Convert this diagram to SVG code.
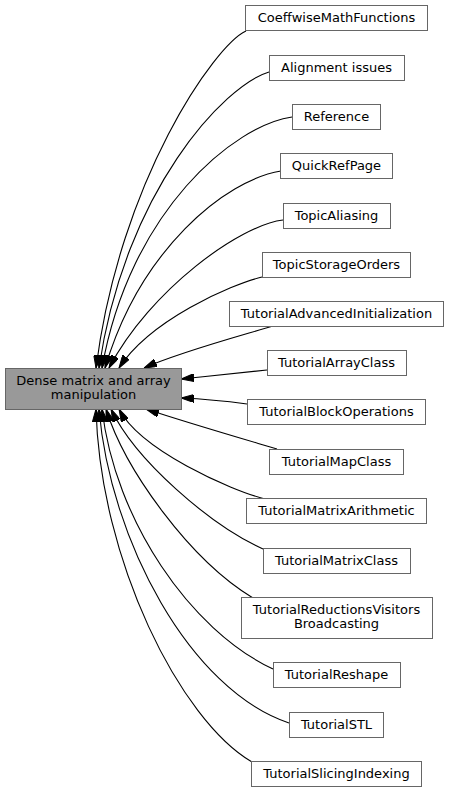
<svg xmlns="http://www.w3.org/2000/svg" width="449" height="792" viewBox="0 0 449 792">
<style>
.n rect{fill:#ffffff;stroke:#666666;stroke-width:1}
#main rect{fill:#999999;stroke:#666666;stroke-width:1}
text{font-family:"DejaVu Sans",sans-serif;font-size:13px;fill:#000000;text-anchor:middle}
.e path{fill:none;stroke:#000000;stroke-width:1.1;marker-end:url(#ah)}
</style>
<defs>
<marker id="ah" markerUnits="userSpaceOnUse" viewBox="0 0 13 8" refX="13" refY="4" markerWidth="13" markerHeight="8" orient="auto">
<path d="M0,0 L13,4 L0,8 Z" fill="#000000" stroke="#000000" stroke-width="1"/>
</marker>
</defs>
<rect width="449" height="792" fill="#ffffff"/>
<g id="edges" class="e">
<path d="M246,31 C215,45 120,180 96,368"/>
<path d="M269,72 C225,85 125,190 99,368"/>
<path d="M292,117 C235,125 130,210 102,368"/>
<path d="M281,171 C225,180 140,250 105,368"/>
<path d="M283,220 C240,225 150,290 109,368"/>
<path d="M262,277 C230,285 150,320 119,368"/>
<path d="M273,326 C240,336 180,352 144,368"/>
<path d="M267,370 C240,373 210,376 181,379"/>
<path d="M247,404 C225,401 205,399 181,398"/>
<path d="M277,449 C240,438 185,422 146,409"/>
<path d="M265,499 C230,490 140,450 119,409"/>
<path d="M263,549 C210,525 135,460 111,409"/>
<path d="M253,598 C190,560 125,470 106,409"/>
<path d="M273,669 C190,630 115,520 102,409"/>
<path d="M289,723 C190,690 110,540 99,409"/>
<path d="M252,762 C180,720 100,560 96,409"/>
</g>
<g id="main"><rect x="5.5" y="368.5" width="176" height="41"/><text x="93.5" y="385">Dense matrix and array</text><text x="93.5" y="398.5">manipulation</text></g>
<g id="n1" class="n"><rect x="245.5" y="5.5" width="182" height="25"/><text x="336.5" y="22">CoeffwiseMathFunctions</text></g>
<g id="n2" class="n"><rect x="269.5" y="55.5" width="135" height="25"/><text x="336.5" y="72">Alignment issues</text></g>
<g id="n3" class="n"><rect x="292.5" y="104.5" width="88" height="25"/><text x="336.5" y="121">Reference</text></g>
<g id="n4" class="n"><rect x="280.5" y="153.5" width="112" height="25"/><text x="336.5" y="170">QuickRefPage</text></g>
<g id="n5" class="n"><rect x="283.5" y="203.5" width="107" height="25"/><text x="336.5" y="220">TopicAliasing</text></g>
<g id="n6" class="n"><rect x="262.5" y="252.5" width="148" height="25"/><text x="336.5" y="269">TopicStorageOrders</text></g>
<g id="n7" class="n"><rect x="229.5" y="301.5" width="214" height="25"/><text x="336.5" y="318">TutorialAdvancedInitialization</text></g>
<g id="n8" class="n"><rect x="267.5" y="350.5" width="139" height="25"/><text x="336.5" y="367">TutorialArrayClass</text></g>
<g id="n9" class="n"><rect x="247.5" y="399.5" width="178" height="25"/><text x="336.5" y="416">TutorialBlockOperations</text></g>
<g id="n10" class="n"><rect x="269.5" y="449.5" width="134" height="25"/><text x="336.5" y="466">TutorialMapClass</text></g>
<g id="n11" class="n"><rect x="246.5" y="498.5" width="180" height="25"/><text x="336.5" y="515">TutorialMatrixArithmetic</text></g>
<g id="n12" class="n"><rect x="263.5" y="548.5" width="147" height="25"/><text x="336.5" y="565">TutorialMatrixClass</text></g>
<g id="n13" class="n"><rect x="241.5" y="597.5" width="191" height="41"/><text x="336.5" y="614">TutorialReductionsVisitors</text><text x="336.5" y="627.5">Broadcasting</text></g>
<g id="n14" class="n"><rect x="273.5" y="662.5" width="127" height="25"/><text x="336.5" y="679">TutorialReshape</text></g>
<g id="n15" class="n"><rect x="289.5" y="712.5" width="94" height="25"/><text x="336.5" y="729">TutorialSTL</text></g>
<g id="n16" class="n"><rect x="251.5" y="761.5" width="170" height="25"/><text x="336.5" y="778">TutorialSlicingIndexing</text></g>
</svg>
